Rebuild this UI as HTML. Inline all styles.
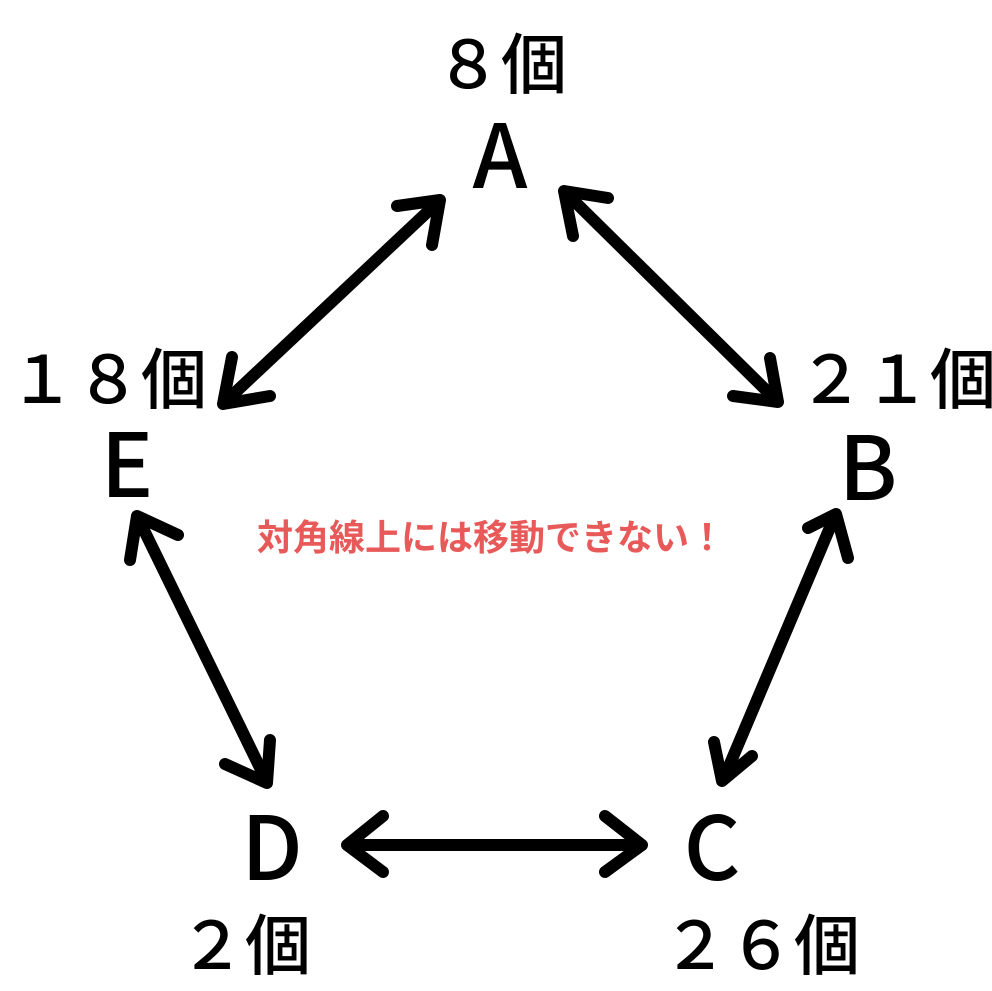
<!DOCTYPE html>
<html><head><meta charset="utf-8"><style>
html,body{margin:0;padding:0;background:#fff;}
svg{display:block;}
.j{font-family:"Noto Sans CJK JP",sans-serif;font-weight:500;}
</style></head><body>
<svg width="992" height="991" viewBox="0 0 992 991" xmlns="http://www.w3.org/2000/svg">
<g stroke="#000" stroke-width="12" stroke-linecap="round" stroke-linejoin="round" fill="none">
<line x1="438" y1="202" x2="224" y2="403"/>
<polyline points="397,206 440,200 432,245"/>
<polyline points="232,357 223,404 270,396"/>
<line x1="566" y1="193" x2="776" y2="400"/>
<polyline points="573,236 564,191 608,198"/>
<polyline points="733,396 778,402 770,358"/>
<line x1="834" y1="518" x2="724" y2="778"/>
<polyline points="808,528 836,514 848,558"/>
<polyline points="714,742 722,781 752,756"/>
<line x1="139" y1="520" x2="266" y2="780"/>
<polyline points="130,560 137,516 178,535"/>
<polyline points="225,764 267,783 270,740"/>
<line x1="348" y1="845" x2="640" y2="845"/>
<polyline points="383,816 347,845 383,872"/>
<polyline points="605,816 642,845 605,872"/>
</g>
<g fill="#000" text-anchor="middle">
<text x="501" y="88" font-size="66" class="j">８個</text>
<text x="500" y="188" font-size="88" class="j">A</text>
<text x="127" y="497" font-size="88" class="j">E</text>
<text x="868" y="500" font-size="88" class="j">B</text>
<text x="272" y="880" font-size="88" class="j">D</text>
<text x="712" y="880" font-size="88" class="j">C</text>
<text x="108" y="403" font-size="66" class="j">１８個</text>
<text x="897" y="403" font-size="66" class="j">２１個</text>
<text x="245" y="969" font-size="66" class="j">２個</text>
<text x="761" y="969" font-size="66" class="j">２６個</text>
</g>
<text x="491" y="550" font-size="36" fill="#e85a5a" text-anchor="middle" class="j" style="font-weight:700">対角線上には移動できない！</text>
</svg>
</body></html>
